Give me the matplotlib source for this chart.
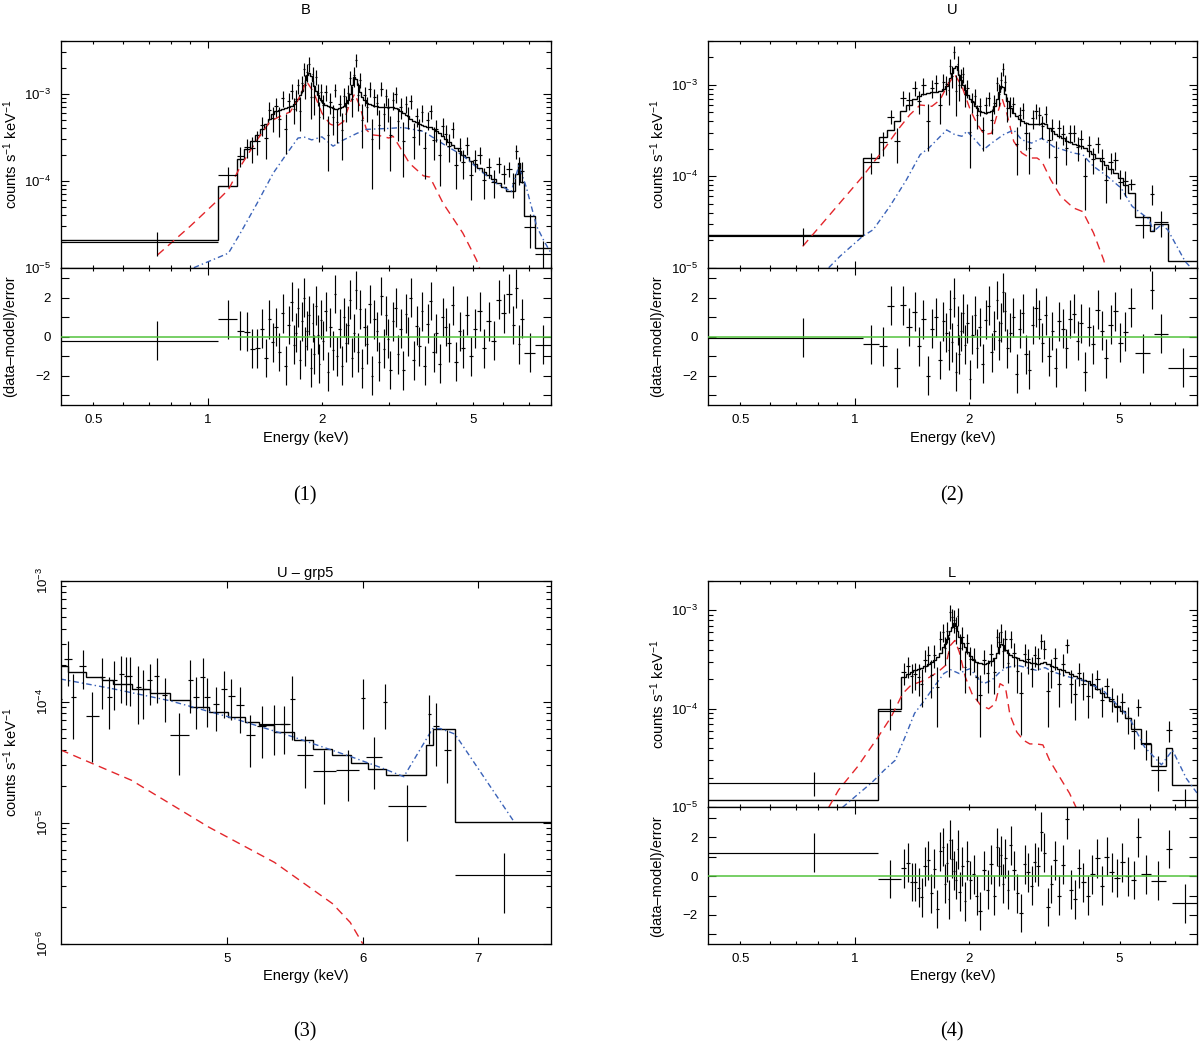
import numpy as np
import matplotlib
matplotlib.use('Agg')
import matplotlib.pyplot as plt
from matplotlib.ticker import (FixedLocator, FuncFormatter, LogLocator,
                               MultipleLocator, NullFormatter, NullLocator)

# all count rates below are in units of 1e-5 counts s^-1 keV^-1
UNIT = 1e-5

# ---------------- panel (1): B ----------------
b_edges = [0.41, 1.065, 1.195, 1.245, 1.29, 1.33, 1.37, 1.41, 1.44, 1.47,
           1.50, 1.53, 1.56, 1.59, 1.62, 1.65, 1.68, 1.70, 1.72, 1.74,
           1.76, 1.78, 1.80, 1.82, 1.84, 1.86, 1.88, 1.90, 1.92, 1.94,
           1.96, 1.98, 2.00, 2.03, 2.06, 2.09, 2.12, 2.15, 2.18, 2.21,
           2.24, 2.27, 2.30, 2.33, 2.36, 2.39, 2.42, 2.45, 2.48, 2.51,
           2.54, 2.57, 2.61, 2.65, 2.69, 2.73, 2.77, 2.81, 2.85, 2.89,
           2.93, 2.97, 3.01, 3.05, 3.10, 3.15, 3.20, 3.25, 3.30, 3.35,
           3.40, 3.46, 3.52, 3.58, 3.64, 3.70, 3.76, 3.83, 3.90, 3.97,
           4.04, 4.12, 4.20, 4.28, 4.37, 4.46, 4.56, 4.66, 4.77, 4.88,
           5.00, 5.13, 5.27, 5.42, 5.58, 5.75, 5.93, 6.12, 6.32, 6.45,
           6.55, 6.65, 6.80, 7.30, 8.00]
b_model = [2.07, 8.8, 18, 23, 29, 34, 39, 45, 52, 58,
           63, 66, 67, 68, 70, 72, 76, 82, 88, 96,
           108, 125, 145, 165, 172, 160, 140, 122, 108, 98,
           90, 84, 79, 75, 72, 70, 68, 67, 67, 68,
           70, 73, 78, 86, 100, 125, 155, 150, 125, 104,
           92, 84, 79, 76, 74, 73, 72, 71, 71, 71,
           71, 71, 70, 70, 69, 67, 63, 60, 57, 55,
           52, 49, 47, 45, 44, 43, 42, 41, 39, 37,
           35, 33, 30, 28, 26, 24, 22, 20, 19, 17,
           15.5, 14, 12.5, 11.5, 10.5, 9.5, 8.5, 7.6, 7.6, 12,
           16, 9.6, 3.9, 1.7]
b_data = [1.95, 11.5, 19.5, 24.5, 24, 28.6, 43.4, 30.7, 65.5, 53,
          72, 51, 90, 39.5, 82, 108, 67, 87, 125, 64,
          132, 193, 126, 178, 220, 93, 167, 91, 156, 101,
          54, 106, 74, 104, 34, 80, 54, 111, 47, 76,
          38.5, 95, 71, 101, 153, 88, 163, 246, 98, 145,
          50, 96, 70, 113, 30, 92, 78, 44, 115, 58,
          94, 69, 34, 86, 99, 49, 71, 29, 77, 55,
          82, 32, 55, 38.5, 61, 23.5, 50, 63, 29.5, 39,
          19.6, 43, 34.5, 25.3, 39, 15, 24, 16.4, 25.6, 11.5,
          17.5, 19.9, 10.1, 14.5, 9.8, 15.6, 12.1, 13.8, 9.4, 22,
          14, 12.8, 2.9, 1.45]
b_err = [0.6, 3.0, 5, 6, 8, 9, 11, 13, 15, 17,
         18, 19, 19, 19, 20, 20, 22, 24, 25, 27,
         30, 34, 38, 42, 44, 42, 38, 34, 30, 28,
         26, 25, 23, 22, 21, 21, 20, 20, 20, 20,
         21, 22, 23, 25, 28, 34, 42, 40, 34, 29,
         26, 24, 23, 22, 22, 21, 21, 21, 21, 21,
         21, 21, 21, 20, 20, 20, 19, 18, 17, 16,
         15, 14, 14, 13, 13, 13, 12, 12, 12, 11,
         11, 10, 9, 9, 8, 7, 7, 6, 6, 5.5,
         5, 4.5, 4, 3.8, 3.5, 3.2, 3.0, 2.8, 3, 4,
         5, 3.5, 1.2, 0.6]
b_red_e = [0.738, 0.9, 1.065, 1.135, 1.22, 1.35, 1.46, 1.55, 1.65, 1.75,
           1.82, 1.9, 2.0, 2.1, 2.18, 2.28, 2.37, 2.44, 2.52, 2.62,
           2.7, 2.84, 3.0, 3.08, 3.2, 3.4, 3.7, 3.85, 4.17, 4.7, 5.1, 5.2]
b_red_y = [1.4, 3.0, 6.0, 7.9, 14.6, 29.5, 48, 55, 62, 93,
           140, 105, 60, 45, 42, 48, 78, 100, 71, 38.6,
           33.8, 33, 31, 32.4, 24.8, 15.9, 11.4, 11, 5.5, 2.5, 1.24, 1.0]
b_blue_e = [0.92, 1.135, 1.22, 1.35, 1.49, 1.62, 1.73, 1.8, 1.88, 2.0,
            2.14, 2.28, 2.47, 2.62, 3.0, 3.27, 3.7, 4.2, 4.7, 5.0,
            5.67, 6.3, 6.6, 6.9, 7.35, 7.7, 8.0]
b_blue_y = [1.0, 1.47, 2.5, 5.5, 12.3, 20.8, 31, 31.7, 29.5, 32,
            25, 29.5, 35, 39, 40, 41, 37, 26, 19.5, 15.5,
            9.7, 7.5, 14.9, 8.5, 3.0, 2.0, 1.5]

# ---------------- panel (2): U ----------------
u_edges = [0.41, 1.05, 1.16, 1.22, 1.27, 1.32, 1.37, 1.42, 1.46, 1.50,
           1.54, 1.58, 1.62, 1.66, 1.70, 1.73, 1.76, 1.78, 1.80, 1.82,
           1.84, 1.86, 1.88, 1.90, 1.92, 1.94, 1.97, 2.00, 2.03, 2.06,
           2.09, 2.12, 2.16, 2.20, 2.24, 2.28, 2.32, 2.36, 2.39, 2.42,
           2.45, 2.48, 2.51, 2.55, 2.60, 2.65, 2.70, 2.75, 2.80, 2.86,
           2.92, 2.98, 3.04, 3.10, 3.16, 3.22, 3.29, 3.36, 3.43, 3.50,
           3.58, 3.66, 3.74, 3.83, 3.92, 4.01, 4.11, 4.21, 4.32, 4.43,
           4.55, 4.67, 4.80, 4.95, 5.10, 5.25, 5.50, 6.00, 6.17, 6.70, 8.00]
u_model = [2.26, 15.8, 27, 32, 40, 51, 60, 70, 76, 80,
           82, 84, 84, 86, 90, 96, 106, 118, 135, 152,
           158, 145, 128, 112, 100, 88, 78, 70, 64, 59,
           55, 52, 50, 49, 50, 52, 58, 70, 84, 96,
           94, 80, 66, 56, 49, 45, 42, 40, 38.5, 37.5,
           37, 37, 37.5, 38.5, 37, 34, 31, 29, 27.5, 26,
           24.5, 23.5, 22.5, 22, 21.5, 20.5, 19, 17.5, 16, 14.5,
           13.3, 12, 10.8, 9.5, 8.1, 6.5, 3.6, 2.5, 3.0, 1.17]
u_data = [2.24, 14.3, 23.5, 44.8, 24, 72, 67.5, 93, 66.5, 98,
          40, 92.4, 105, 59.6, 108, 101, 87, 160, 125, 228,
          86, 167, 99, 120, 130, 79, 92, 30.4, 65.6, 75.5,
          46.6, 58.5, 31.8, 60, 70.8, 41.6, 62.5, 104, 80, 113,
          149, 106, 55.8, 58.8, 61.5, 22.2, 46.4, 52.6, 29.5, 20.5,
          43, 52, 46.5, 35.5, 48, 25, 33.5, 16.2, 33.5, 28.8,
          20.3, 29.4, 30, 20.8, 25.7, 10.1, 21.8, 15.5, 22.4, 15.8,
          9, 14.2, 15.1, 8.6, 8.75, 8.15, 2.92, 6.46, 3.15, 0.37]
u_err = [0.45, 3.8, 7, 8, 10, 13, 15, 18, 19, 20,
         21, 21, 21, 22, 23, 24, 27, 30, 34, 38,
         40, 37, 32, 28, 25, 22, 20, 18, 16, 15,
         14, 13, 13, 12.5, 13, 13, 15, 18, 21, 24,
         24, 20, 17, 14, 12.5, 12, 11, 10.5, 10, 10,
         10, 10, 10, 10, 10, 9, 8.5, 8, 7.5, 7,
         7, 6.5, 6.3, 6, 6, 5.8, 5.5, 5, 4.6, 4.2,
         3.9, 3.6, 3.3, 3.0, 2.6, 1.1, 0.8, 1.65, 1.0, 0.5]
u_red_e = [0.73, 0.915, 1.05, 1.12, 1.21, 1.3, 1.4, 1.49, 1.6, 1.68,
           1.77, 1.84, 1.92, 2.02, 2.1, 2.2, 2.3, 2.37, 2.45, 2.52,
           2.63, 2.76, 2.9, 3.03, 3.12, 3.29, 3.5, 3.78, 4.0, 4.27, 4.54, 4.6]
u_red_y = [1.71, 5.1, 9.9, 14, 21, 32, 47, 60, 58, 68,
           103, 128, 96, 53, 38, 28.4, 29.5, 45, 71, 49,
           24, 18, 15.8, 15.8, 14.5, 9.2, 6.0, 4.5, 4.1, 2.4, 1.22, 1.0]
u_blue_e = [0.855, 0.915, 1.05, 1.12, 1.24, 1.37, 1.49, 1.57, 1.65, 1.75,
            1.84, 1.92, 1.98, 2.08, 2.19, 2.3, 2.47, 2.63, 2.76, 2.93,
            3.12, 3.35, 3.78, 4.0, 4.27, 4.64, 5.05, 5.4, 5.97, 6.15,
            6.45, 6.7, 7.45, 8.0]
u_blue_y = [1.0, 1.33, 2.2, 2.6, 4.7, 9.1, 17.2, 20.3, 25, 32,
            28.4, 27.3, 31, 25, 19.5, 23, 28.4, 32, 25, 23,
            26, 21, 17.9, 17.2, 12.8, 10, 7.4, 4.68, 3.4, 2.5,
            2.95, 2.6, 1.17, 0.85]

# ---------------- panel (3): U - grp5 ----------------
g_e = [4.00, 4.04, 4.07, 4.12, 4.175, 4.23, 4.27, 4.30, 4.34, 4.37,
       4.39, 4.44, 4.47, 4.51, 4.55, 4.60, 4.69, 4.76, 4.80, 4.84,
       4.87, 4.93, 4.98, 5.03, 5.09, 5.16, 5.24, 5.33, 5.40, 5.46,
       5.55, 5.70, 5.88, 6.00, 6.09, 6.18, 6.37, 6.56, 6.62, 6.72, 7.255]
g_de = [0.01, 0.02, 0.015, 0.02, 0.035, 0.015, 0.015, 0.015, 0.015, 0.015,
        0.015, 0.015, 0.015, 0.015, 0.015, 0.015, 0.06, 0.015, 0.02, 0.015,
        0.02, 0.02, 0.02, 0.025, 0.025, 0.03, 0.03, 0.11, 0.03, 0.02,
        0.06, 0.09, 0.09, 0.015, 0.065, 0.015, 0.16, 0.015, 0.03, 0.03, 0.465]
g_y = [10.5, 22.5, 10.9, 19.6, 7.6, 15.9, 10.9, 15.0, 16.8, 16.4,
       16.2, 13.2, 12.7, 15.0, 16.4, 11.3, 5.3, 15.0, 10.9, 15.9,
       10.9, 9.5, 12.7, 11.2, 9.4, 5.3, 6.3, 6.5, 6.5, 10.6,
       3.6, 2.7, 2.74, 10.7, 3.5, 9.9, 1.37, 7.95, 6.35, 3.96, 0.37]
g_err = [5, 9, 6, 6.9, 4.4, 7.2, 5, 6.5, 7, 7,
         7, 6.6, 5.5, 5.6, 6.7, 4.5, 2.8, 7, 5, 7,
         4.7, 3.8, 5.3, 4.2, 3.9, 2.4, 2.9, 2.9, 2.8, 5.8,
         1.65, 1.26, 1.24, 4.8, 1.6, 4.0, 0.66, 3.5, 3.4, 1.85, 0.19]
g_edges = [4.00, 4.04, 4.14, 4.23, 4.29, 4.40, 4.51, 4.63, 4.76, 4.88,
           5.01, 5.12, 5.22, 5.33, 5.47, 5.61, 5.76, 5.91, 6.04, 6.19,
           6.53, 6.59, 6.79, 7.72]
g_model = [19.6, 17.5, 16.1, 15.0, 14.1, 12.7, 11.7, 10.4, 9.0, 8.2,
           7.5, 6.8, 6.4, 5.6, 4.8, 4.1, 3.6, 3.1, 2.8, 2.5,
           4.35, 6.0, 1.01]
g_red_e = [4.0, 4.4, 4.88, 5.33, 5.76, 5.9, 6.0]
g_red_y = [4.0, 2.24, 0.92, 0.47, 0.215, 0.15, 0.1]
g_blue_e = [4.0, 4.29, 4.63, 5.01, 5.47, 5.91, 6.17, 6.34, 6.59, 6.66, 6.79, 7.35]
g_blue_y = [15.4, 12.8, 10.2, 7.5, 5.1, 3.5, 2.8, 2.4, 6.0, 6.0, 5.4, 1.02]

# ---------------- panel (4): L ----------------
l_edges = [0.41, 1.155, 1.33, 1.37, 1.40, 1.43, 1.46, 1.49, 1.52, 1.55,
           1.58, 1.61, 1.64, 1.67, 1.70, 1.72, 1.74, 1.76, 1.78, 1.80,
           1.82, 1.84, 1.86, 1.88, 1.91, 1.94, 1.97, 2.00, 2.04, 2.08,
           2.12, 2.17, 2.22, 2.27, 2.32, 2.36, 2.39, 2.42, 2.45, 2.48,
           2.52, 2.56, 2.61, 2.66, 2.72, 2.78, 2.84, 2.90, 2.96, 3.02,
           3.08, 3.14, 3.20, 3.27, 3.34, 3.42, 3.50, 3.58, 3.67, 3.76,
           3.86, 3.96, 4.07, 4.18, 4.30, 4.43, 4.56, 4.70, 4.85, 5.00,
           5.18, 5.37, 5.53, 5.69, 6.04, 6.62, 6.88, 8.00]
l_model = [1.2, 9.9, 21, 22.5, 23.5, 24.6, 25.5, 26.2, 27.5, 28.5,
           30, 31.5, 33.5, 37, 42, 46, 51, 56, 62, 68,
           74, 70, 62, 54, 47, 42, 38, 34, 31.5, 30,
           29, 28.7, 29, 30.5, 33, 37, 42, 46, 44, 40,
           37, 35, 33.5, 32.5, 31.5, 30.5, 30, 29.5, 29, 28.7,
           29.5, 30, 28.5, 27.5, 26.5, 25.5, 24.5, 23.5, 22.5, 21.5,
           20.7, 19.8, 19, 17.5, 15.8, 14.5, 13.2, 12, 10.8, 9.6,
           8.0, 6.3, 6.3, 4.4, 2.6, 4.0, 1.68]
l_data = [1.78, 9.4, 23.4, 27, 21.4, 22.5, 21, 18, 31.5, 35,
          22, 35, 16.5, 51, 60, 41, 61.5, 37, 96, 85,
          80, 66, 87, 41, 54, 26.4, 46.8, 32, 32.4, 21,
          13.7, 31.3, 23, 36, 23.5, 53.5, 48, 60, 39, 51,
          29.3, 51, 36.5, 24, 14.4, 36, 31.8, 25.3, 35, 33,
          49, 40.8, 15, 24.3, 33, 18, 28.7, 44, 18, 14,
          23.1, 18, 13.5, 18, 20, 12.4, 17, 12.7, 10.5, 11.6,
          8.0, 5.9, 10.5, 4.55, 2.38, 6.1, 1.19]
l_err = [0.48, 3.3, 6, 6.5, 7, 7, 7.5, 7.5, 8, 8,
         9, 9, 10, 11, 12, 13, 15, 16, 18, 19,
         21, 20, 18, 16, 14, 12, 11, 10, 9, 9,
         8.5, 8.5, 8.5, 9, 9.5, 11, 12, 13, 13, 12,
         11, 10, 10, 9.5, 9, 9, 9, 8.5, 8.5, 8.5,
         8.5, 9, 8.5, 8, 8, 7.5, 7, 7, 6.5, 6.3,
         6, 5.8, 5.5, 5, 4.6, 4.2, 3.8, 3.5, 3.2, 2.8,
         2.4, 2.0, 2.1, 1.5, 0.9, 1.5, 0.35]
l_red_e = [0.855, 0.908, 1.02, 1.155, 1.25, 1.34, 1.41, 1.53, 1.66, 1.74,
           1.79, 1.84, 1.89, 1.96, 2.04, 2.15, 2.26, 2.35, 2.42, 2.5,
           2.57, 2.68, 2.79, 2.9, 3.02, 3.14, 3.27, 3.47, 3.69, 3.84]
l_red_y = [1.0, 1.5, 2.6, 5.2, 8.3, 14.3, 17.4, 19.5, 23.7, 27.7,
           44, 49.5, 37.7, 21, 14.3, 10.9, 10, 11.3, 18, 16.7,
           8.7, 5.8, 4.8, 4.4, 4.4, 4.3, 3.0, 2.05, 1.39, 1.0]
l_blue_e = [0.93, 1.11, 1.2, 1.28, 1.36, 1.44, 1.53, 1.62, 1.72, 1.79,
            1.89, 1.96, 2.02, 2.1, 2.19, 2.3, 2.42, 2.52, 2.68, 2.84,
            3.02, 3.18, 3.34, 3.69, 4.0, 4.52, 4.89, 5.3, 5.82, 6.45,
            6.9, 7.5, 8.0]
l_blue_y = [1.0, 1.78, 2.4, 3.0, 5.2, 9.0, 12.2, 16.7, 22.8, 25,
            22.8, 24.6, 25.6, 21, 18, 19.5, 23.7, 26.2, 27.7, 26.2,
            24.6, 26.2, 23.7, 21, 19.5, 15.5, 11.3, 8.2, 4.1, 2.7,
            3.8, 1.97, 1.4]

# energy tick marks for the broad-band panels
E_LABELLED = [0.5, 1, 2, 5]
E_UNLABELLED = [0.6, 0.7, 0.8, 0.9, 3, 4, 6, 7, 8]

# ---------------- styling ----------------
RED = '#e3262b'
BLUE = '#3a62b8'
GREEN = '#52c23c'
W, H = 1200, 1051
TICK_FS = 9.5
LABEL_FS = 10.5

plt.rcParams['font.family'] = ['Liberation Sans', 'DejaVu Sans']
plt.rcParams['mathtext.fontset'] = 'custom'
plt.rcParams['mathtext.rm'] = 'Liberation Sans'
plt.rcParams['mathtext.it'] = 'Liberation Sans:italic'
plt.rcParams['mathtext.bf'] = 'Liberation Sans:bold'
plt.rcParams['axes.linewidth'] = 0.95

YLAB = r'counts s$^{-1}$ keV$^{-1}$'
RLAB = '(data\u2013model)/error'
RED_LS = (0, (6, 4))
BLUE_LS = (0, (4, 2.2, 1, 2.2))


def box(l, t, r, b):
    # pixel box (left, top, right, bottom) -> figure fraction
    return [l / W, 1 - b / H, (r - l) / W, (b - t) / H]


def put(fig, x, y, s, **kw):
    fig.text(x / W, 1 - y / H, s, ha='center', va='center', **kw)


def ticks(ax):
    ax.tick_params(which='both', direction='in', top=True, right=True,
                   width=0.8, labelsize=TICK_FS, pad=7)
    ax.tick_params(axis='x', which='both', length=2.5)
    ax.tick_params(axis='y', which='major', length=6)
    ax.tick_params(axis='y', which='minor', length=3.8)


def long_tick_at_one(ax):
    # only the 1 keV tick (a decade) is drawn long
    for loc, t in zip(E_LABELLED, ax.xaxis.get_major_ticks()):
        if loc == 1:
            t.tick1line.set_markersize(4.8)
            t.tick2line.set_markersize(4.8)


def energy_axis(ax):
    ax.set_xscale('log')
    ax.set_xlim(0.41, 8.0)
    ax.xaxis.set_major_locator(FixedLocator(E_LABELLED))
    ax.xaxis.set_minor_locator(FixedLocator(E_UNLABELLED))
    ax.xaxis.set_major_formatter(NullFormatter())
    ax.xaxis.set_minor_formatter(NullFormatter())


def energy_labels(fig, ax):
    # tick numbers at the tick energies, mapped through the axis scale
    y_axis = ax.get_position().y0 * H
    for loc in E_LABELLED:
        x_pix = ax.transData.transform((loc, 0))[0]
        fig.text(x_pix / W, (y_axis - 9.5) / H, f'{loc:g}', ha='center', va='top',
                 fontsize=TICK_FS, zorder=10)


def count_axis(ax, lo, hi):
    ax.set_yscale('log', nonpositive='clip')
    ax.set_ylim(lo, hi)
    ax.yaxis.set_major_locator(LogLocator(base=10, numticks=12))
    ax.yaxis.set_minor_locator(LogLocator(base=10, subs=np.arange(2, 10), numticks=12))
    ax.yaxis.set_minor_formatter(NullFormatter())


def even_only(v, p):
    k = int(round(v))
    return str(k).replace('-', '\u2212') if k % 2 == 0 else ''


def spectrum(fig, top, bottom, edges, model, data, err,
             red_e, red_y, blue_e, blue_y, ytop):
    edges = np.asarray(edges)
    lo, hi = edges[:-1], edges[1:]
    mid = 0.5 * (lo + hi)
    model = np.asarray(model) * UNIT
    data = np.asarray(data) * UNIT
    err = np.asarray(err) * UNIT

    ax = fig.add_axes(top)
    count_axis(ax, 1e-5, ytop)
    energy_axis(ax)
    ax.plot(red_e, np.asarray(red_y) * UNIT, color=RED, lw=1.0, ls=RED_LS)
    ax.plot(blue_e, np.asarray(blue_y) * UNIT, color=BLUE, lw=1.0, ls=BLUE_LS)
    ax.stairs(model, edges, baseline=None, color='k', lw=1.0)
    ax.errorbar(mid, data, xerr=[mid - lo, hi - mid], yerr=err,
                fmt='none', ecolor='k', elinewidth=0.85)
    ticks(ax)
    long_tick_at_one(ax)

    rx = fig.add_axes(bottom)
    energy_axis(rx)
    rx.set_ylim(-3.5, 3.55)
    rx.yaxis.set_major_locator(MultipleLocator(1))
    rx.yaxis.set_minor_locator(NullLocator())
    rx.yaxis.set_major_formatter(FuncFormatter(even_only))
    rx.axhline(0, color=GREEN, lw=1.1, zorder=3)
    rx.errorbar(mid, (data - model) / err, xerr=[mid - lo, hi - mid], yerr=1,
                fmt='none', ecolor='k', elinewidth=0.85)
    ticks(rx)
    long_tick_at_one(rx)
    return rx


fig = plt.figure(figsize=(W / 100, H / 100), dpi=100)
residual_axes = []

# (1) B
residual_axes.append(spectrum(
    fig, box(60.5, 41, 550.6, 267.7), box(60.5, 267.7, 550.6, 404.7),
    b_edges, b_model, b_data, b_err, b_red_e, b_red_y, b_blue_e, b_blue_y, 4.05e-3))
put(fig, 305.5, 10, 'B', fontsize=LABEL_FS)
put(fig, 306, 438, 'Energy (keV)', fontsize=LABEL_FS)
put(fig, 11, 154, YLAB, fontsize=LABEL_FS, rotation=90)
put(fig, 10, 336, RLAB, fontsize=LABEL_FS, rotation=90)

# (2) U
residual_axes.append(spectrum(
    fig, box(707.7, 41, 1196.9, 267.7), box(707.7, 267.7, 1196.9, 404.7),
    u_edges, u_model, u_data, u_err, u_red_e, u_red_y, u_blue_e, u_blue_y, 3.0e-3))
put(fig, 952, 10, 'U', fontsize=LABEL_FS)
put(fig, 953, 438, 'Energy (keV)', fontsize=LABEL_FS)
put(fig, 658, 154, YLAB, fontsize=LABEL_FS, rotation=90)
put(fig, 657, 336, RLAB, fontsize=LABEL_FS, rotation=90)

# (3) U - grp5
ax = fig.add_axes(box(60.5, 580.7, 550.6, 943.7))
ax.set_xscale('log')
count_axis(ax, 1e-6, 1e-3)
ax.set_xlim(4.0, 7.72)
ax.xaxis.set_major_locator(FixedLocator([5, 6, 7]))
ax.xaxis.set_major_formatter(FuncFormatter(lambda v, p: f'{v:g}'))
ax.xaxis.set_minor_locator(NullLocator())
ax.plot(g_red_e, np.asarray(g_red_y) * UNIT, color=RED, lw=1.0, ls=RED_LS)
ax.plot(g_blue_e, np.asarray(g_blue_y) * UNIT, color=BLUE, lw=1.0, ls=BLUE_LS)
ax.stairs(np.asarray(g_model) * UNIT, g_edges, baseline=None, color='k', lw=1.0)
ax.errorbar(g_e, np.asarray(g_y) * UNIT, xerr=g_de, yerr=np.asarray(g_err) * UNIT,
            fmt='none', ecolor='k', elinewidth=0.85)
ticks(ax)
ax.tick_params(axis='x', which='major', length=4.8)
ax.tick_params(axis='y', which='major', labelrotation=90)
for t in ax.get_yticklabels():
    t.set_verticalalignment('center')
put(fig, 305.5, 573, 'U \u2013 grp5', fontsize=LABEL_FS)
put(fig, 306, 976, 'Energy (keV)', fontsize=LABEL_FS)
put(fig, 11, 762, YLAB, fontsize=LABEL_FS, rotation=90)

# (4) L
residual_axes.append(spectrum(
    fig, box(707.7, 580.7, 1196.9, 807.3), box(707.7, 807.3, 1196.9, 944),
    l_edges, l_model, l_data, l_err, l_red_e, l_red_y, l_blue_e, l_blue_y, 2.0e-3))
put(fig, 952, 573, 'L', fontsize=LABEL_FS)
put(fig, 953, 976, 'Energy (keV)', fontsize=LABEL_FS)
put(fig, 658, 694, YLAB, fontsize=LABEL_FS, rotation=90)
put(fig, 657, 876, RLAB, fontsize=LABEL_FS, rotation=90)

for rx in residual_axes:
    energy_labels(fig, rx)

# captions
for x, y, s in [(305, 496, '(1)'), (952, 496, '(2)'), (305, 1032, '(3)'), (952, 1032, '(4)')]:
    put(fig, x, y, s, fontsize=14.5, family='Liberation Serif')

fig.savefig('out.png', dpi=100)
